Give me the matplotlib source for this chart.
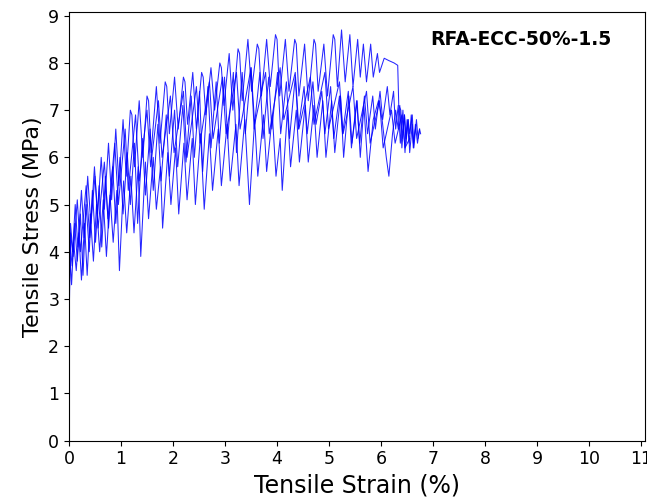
import numpy as np
import matplotlib
matplotlib.use("Agg")
import matplotlib.pyplot as plt

# specimen curves: (strain %, stress MPa)
curve_top = [
    (0.00, 2.3), (0.03, 4.4), (0.07, 4.0), (0.12, 5.0), (0.17, 4.1), (0.24, 5.3), (0.29, 4.3),
    (0.36, 5.6), (0.42, 4.6), (0.49, 5.8), (0.55, 4.8), (0.62, 6.0), (0.68, 4.9), (0.76, 6.3),
    (0.82, 5.1), (0.90, 6.6), (0.96, 5.4), (1.04, 6.8), (1.10, 5.6), (1.18, 7.0), (1.21, 6.9),
    (1.26, 5.8), (1.35, 7.2), (1.42, 6.0), (1.50, 7.3), (1.53, 7.2), (1.58, 6.1), (1.68, 7.5),
    (1.75, 6.3), (1.85, 7.6), (1.88, 7.5), (1.93, 6.5), (2.03, 7.7), (2.10, 6.6), (2.20, 7.7),
    (2.23, 7.6), (2.28, 6.7), (2.38, 7.8), (2.45, 6.6), (2.55, 7.8), (2.58, 7.7), (2.63, 6.9),
    (2.73, 7.9), (2.80, 7.0), (2.90, 8.0), (2.93, 7.9), (2.98, 7.1), (3.08, 8.2), (3.15, 7.0),
    (3.25, 8.3), (3.28, 8.2), (3.33, 7.2), (3.44, 8.5), (3.51, 7.4), (3.62, 8.4), (3.65, 8.3),
    (3.70, 7.3), (3.80, 8.5), (3.87, 7.5), (3.97, 8.6), (4.00, 8.5), (4.05, 7.3), (4.16, 8.5),
    (4.23, 7.4), (4.34, 8.5), (4.37, 8.4), (4.42, 7.3), (4.53, 8.4), (4.60, 7.2), (4.71, 8.5),
    (4.74, 8.4), (4.79, 7.4), (4.90, 8.4), (4.97, 7.3), (5.08, 8.6), (5.11, 8.5), (5.16, 7.5),
    (5.24, 8.7), (5.31, 7.6), (5.40, 8.6), (5.46, 7.5), (5.55, 8.5), (5.60, 7.7), (5.66, 8.4),
    (5.72, 7.6), (5.80, 8.4), (5.85, 7.7), (5.93, 8.2), (5.97, 7.8), (6.06, 8.1), (6.15, 8.05),
    (6.25, 8.0), (6.32, 7.95), (6.34, 7.1), (6.38, 7.0), (6.41, 6.4), (6.45, 6.9), (6.48, 6.3),
    (6.52, 6.8), (6.55, 6.5), (6.60, 6.9), (6.63, 6.2), (6.68, 6.8), (6.71, 6.4), (6.74, 6.6),
]

curve_second = [
    (0.00, 2.5), (0.03, 4.6), (0.08, 3.9), (0.16, 5.1), (0.22, 4.0), (0.33, 5.4), (0.40, 4.3),
    (0.50, 5.6), (0.56, 4.5), (0.68, 5.9), (0.75, 4.7), (0.88, 6.3), (0.95, 5.0), (1.08, 6.6),
    (1.14, 5.3), (1.28, 6.9), (1.35, 5.5), (1.50, 7.0), (1.57, 5.8), (1.72, 7.2), (1.79, 6.0),
    (1.95, 7.3), (2.02, 6.1), (2.20, 7.4), (2.27, 6.0), (2.45, 7.5), (2.52, 6.3), (2.70, 7.6),
    (2.77, 6.4), (2.95, 7.7), (3.02, 6.5), (3.22, 7.8), (3.29, 6.6), (3.50, 7.9), (3.57, 6.7),
    (3.78, 7.8), (3.85, 6.5), (4.06, 7.9), (4.13, 6.8), (4.35, 7.8), (4.42, 6.6), (4.64, 7.7),
    (4.71, 6.7), (4.92, 7.8), (4.99, 6.6), (5.20, 7.6), (5.27, 6.5), (5.46, 7.5), (5.53, 6.4),
    (5.72, 7.4), (5.79, 6.3), (5.97, 7.2), (6.04, 6.2), (6.20, 7.0), (6.27, 6.3), (6.40, 6.9),
    (6.46, 6.2), (6.55, 6.4),
]

curve_mid = [
    (0.00, 2.6), (0.02, 4.2), (0.06, 3.7), (0.11, 4.6), (0.16, 3.8), (0.22, 4.8), (0.27, 3.5),
    (0.33, 5.0), (0.39, 4.0), (0.45, 5.3), (0.51, 4.2), (0.58, 5.4), (0.63, 4.1), (0.70, 5.6),
    (0.76, 4.5), (0.84, 5.8), (0.90, 4.6), (0.98, 6.0), (1.04, 4.8), (1.12, 6.1), (1.18, 5.0),
    (1.26, 6.3), (1.32, 4.6), (1.41, 6.4), (1.47, 5.2), (1.56, 6.6), (1.62, 5.3), (1.71, 6.7),
    (1.77, 5.5), (1.87, 6.9), (1.93, 5.6), (2.03, 7.0), (2.09, 5.8), (2.19, 7.1), (2.25, 5.9),
    (2.35, 7.3), (2.41, 6.0), (2.51, 7.4), (2.57, 5.7), (2.67, 7.5), (2.73, 6.2), (2.83, 7.6),
    (2.89, 6.3), (2.99, 7.7), (3.05, 6.4), (3.16, 7.8), (3.22, 6.1), (3.33, 7.8), (3.39, 6.5),
    (3.50, 7.9), (3.56, 6.6), (3.67, 7.8), (3.73, 6.4), (3.84, 7.7), (3.90, 6.6), (4.01, 7.8),
    (4.07, 6.5), (4.18, 7.6), (4.24, 6.4), (4.35, 7.7), (4.41, 6.6), (4.52, 7.5), (4.58, 6.5),
    (4.69, 7.6), (4.75, 6.7), (4.86, 7.4), (4.92, 6.5), (5.03, 7.5), (5.09, 6.4), (5.20, 7.3),
    (5.26, 6.5), (5.37, 7.4), (5.43, 6.2), (5.53, 7.2), (5.59, 6.3), (5.68, 7.3), (5.74, 6.5),
    (5.84, 7.3), (5.89, 6.6), (5.98, 7.4), (6.03, 6.8), (6.12, 7.5), (6.17, 6.9), (6.24, 7.4),
    (6.28, 6.6), (6.33, 7.1), (6.37, 6.3), (6.42, 7.0), (6.46, 6.1), (6.50, 6.8), (6.54, 6.3),
    (6.58, 6.9), (6.62, 6.2), (6.66, 6.7), (6.70, 6.3), (6.74, 6.6), (6.76, 6.5),
]

curve_low = [
    (0.00, 2.8), (0.02, 3.9), (0.05, 3.3), (0.09, 4.2), (0.14, 3.6), (0.19, 4.4), (0.24, 3.4),
    (0.30, 4.6), (0.35, 3.5), (0.41, 4.8), (0.47, 3.8), (0.53, 5.0), (0.59, 4.0), (0.66, 5.1),
    (0.72, 3.9), (0.79, 5.2), (0.85, 4.2), (0.92, 5.3), (0.97, 3.6), (1.05, 5.5), (1.11, 4.4),
    (1.19, 5.6), (1.25, 4.4), (1.33, 5.8), (1.38, 3.9), (1.47, 5.9), (1.53, 4.7), (1.62, 6.0),
    (1.68, 4.9), (1.76, 5.8), (1.80, 4.5), (1.90, 6.1), (1.96, 5.0), (2.05, 6.2), (2.11, 4.8),
    (2.21, 6.3), (2.27, 5.1), (2.37, 6.4), (2.43, 5.0), (2.53, 6.5), (2.60, 4.9), (2.70, 6.5),
    (2.76, 5.3), (2.87, 6.6), (2.93, 5.4), (3.04, 6.7), (3.10, 5.5), (3.21, 6.7), (3.27, 5.4),
    (3.38, 6.8), (3.47, 5.0), (3.57, 6.8), (3.63, 5.6), (3.74, 6.9), (3.80, 5.7), (3.91, 6.9),
    (3.98, 5.6), (4.06, 6.4), (4.10, 5.3), (4.20, 7.0), (4.26, 5.8), (4.37, 7.0), (4.43, 5.9),
    (4.54, 7.1), (4.60, 5.9), (4.71, 7.1), (4.77, 6.0), (4.88, 7.2), (4.94, 6.0), (5.05, 7.2),
    (5.11, 6.1), (5.22, 7.3), (5.28, 6.0), (5.38, 7.3), (5.44, 6.3), (5.54, 7.2), (5.60, 6.0),
    (5.67, 7.1), (5.75, 5.7), (5.85, 6.8), (5.95, 7.2), (6.02, 6.8), (6.10, 6.0), (6.15, 5.6),
    (6.22, 6.5), (6.28, 7.0), (6.33, 6.6), (6.36, 7.1), (6.40, 6.2), (6.45, 6.9), (6.48, 6.4),
    (6.52, 6.8), (6.55, 6.1), (6.60, 6.7), (6.62, 6.3), (6.66, 6.6),
]

curves = [curve_top, curve_second, curve_mid, curve_low]
x_ticks = list(range(0, 12))
y_ticks = list(range(0, 10))
label = "RFA-ECC-50%-1.5"

fig = plt.figure(figsize=(6.47, 5.0), dpi=100)
ax = fig.add_axes([0.1066, 0.119, 0.890, 0.857])

for c in curves:
    pts = np.array(c)
    ax.plot(pts[:, 0], pts[:, 1], color="blue", linewidth=0.75, alpha=0.85)

ax.set_xlim(0, 11.07)
ax.set_ylim(0, 9.08)
ax.set_xticks(x_ticks)
ax.set_yticks(y_ticks)
ax.tick_params(labelsize=12.5)
ax.set_xlabel("Tensile Strain (%)", fontsize=17)
ax.set_ylabel("Tensile Stress (MPa)", fontsize=16)
ax.text(0.627, 0.935, label, transform=ax.transAxes, fontsize=13.5,
        fontweight="bold", va="center", ha="left")

fig.savefig("out.png", dpi=100)
